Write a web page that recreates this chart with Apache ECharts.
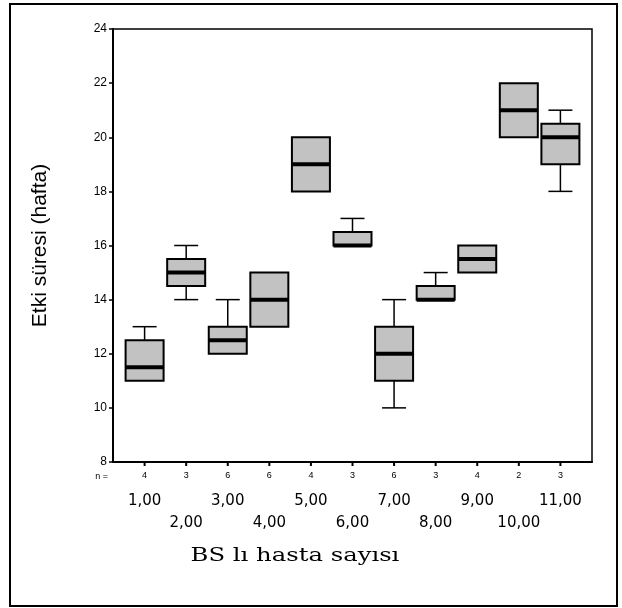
<!DOCTYPE html>
<html>
<head>
<meta charset="utf-8">
<script src="https://cdn.jsdelivr.net/npm/echarts@6/dist/echarts.min.js"></script>
<style>
  html, body { margin: 0; padding: 0; background: #fff; }
  #chart { width: 622px; height: 608px; }
</style>
</head>
<body>
<div id="chart"></div>
<script>
// BS li hasta sayisi groups and their box statistics (etki suresi, hafta)
var categories = ['1,00', '2,00', '3,00', '4,00', '5,00', '6,00', '7,00', '8,00', '9,00', '10,00', '11,00'];
var positions = [1, 2, 3, 4, 5, 6, 7, 8, 9, 10, 11];
var counts = [4, 3, 6, 6, 4, 3, 6, 3, 4, 2, 3];
var mins = [11, 14, 12, 13, 18, 16, 10, 14, 15, 20, 18];
var q1s = [11, 14.5, 12, 13, 18, 16, 11, 14, 15, 20, 19];
var medians = [11.5, 15, 12.5, 14, 19, 16, 12, 14, 15.5, 21, 20];
var q3s = [12.5, 15.5, 13, 15, 20, 16.5, 13, 14.5, 16, 22, 20.5];
var maxs = [13, 16, 14, 15, 20, 17, 14, 15, 16, 22, 21];
var yTicks = [8, 10, 12, 14, 16, 18, 20, 22, 24];

var boxData = positions.map(function(p, i) {
  return [p, mins[i], q1s[i], medians[i], q3s[i], maxs[i]];
});
var oddPos = positions.filter(function(p) { return p % 2 === 1; });
var evenPos = positions.filter(function(p) { return p % 2 === 0; });

var chart = echarts.init(document.getElementById('chart'));

function renderBox(params, api) {
  var x = api.value(0);
  var pMin = api.coord([x, api.value(1)]);
  var pQ1 = api.coord([x, api.value(2)]);
  var pMed = api.coord([x, api.value(3)]);
  var pQ3 = api.coord([x, api.value(4)]);
  var pMax = api.coord([x, api.value(5)]);
  var pBase = api.coord([x, yTicks[0]]);
  var half = 19, cap = 12;
  var cx = pMed[0];
  var kids = [];
  var thin = {stroke: '#000', lineWidth: 1.5};
  // x tick under each group
  kids.push({type: 'line', shape: {x1: cx, y1: pBase[1], x2: cx, y2: pBase[1] + 4}, style: {stroke: '#000', lineWidth: 2}});
  if (pMax[1] < pQ3[1]) {
    kids.push({type: 'line', shape: {x1: cx, y1: pQ3[1], x2: cx, y2: pMax[1]}, style: thin});
    kids.push({type: 'line', shape: {x1: cx - cap, y1: pMax[1], x2: cx + cap, y2: pMax[1]}, style: thin});
  }
  if (pMin[1] > pQ1[1]) {
    kids.push({type: 'line', shape: {x1: cx, y1: pQ1[1], x2: cx, y2: pMin[1]}, style: thin});
    kids.push({type: 'line', shape: {x1: cx - cap, y1: pMin[1], x2: cx + cap, y2: pMin[1]}, style: thin});
  }
  kids.push({
    type: 'rect',
    shape: {x: cx - half, y: pQ3[1], width: half * 2, height: pQ1[1] - pQ3[1]},
    style: {fill: '#c2c2c2', stroke: '#000', lineWidth: 2}
  });
  kids.push({
    type: 'line',
    shape: {x1: cx - half, y1: pMed[1], x2: cx + half, y2: pMed[1]},
    style: {stroke: '#000', lineWidth: 4}
  });
  return {type: 'group', children: kids};
}

function labelAxis(values, margin, fontSize, fontFamily, showLine, fmt) {
  return {
    type: 'value',
    position: 'bottom',
    min: 0.24,
    max: 11.76,
    splitLine: {show: false},
    axisLine: {show: showLine, lineStyle: {color: '#000', width: 2}},
    axisTick: {show: false},
    axisLabel: {
      customValues: values,
      showMinLabel: true,
      showMaxLabel: true,
      hideOverlap: false,
      margin: margin,
      fontSize: fontSize,
      fontFamily: fontFamily,
      color: '#000',
      formatter: fmt
    }
  };
}

var option = {
  backgroundColor: '#fff',
  animation: false,
  grid: {
    left: 113, right: 30, top: 29, bottom: 146,
    show: true, borderColor: '#000', borderWidth: 1.5, backgroundColor: 'transparent'
  },
  xAxis: [
    labelAxis(positions, 9, 9, 'Liberation Sans', true, function(v) { return String(counts[Math.round(v) - 1]); }),
    labelAxis(oddPos, 32, 15, 'DejaVu Sans', false, function(v) { return categories[Math.round(v) - 1]; }),
    labelAxis(evenPos, 54, 15, 'DejaVu Sans', false, function(v) { return categories[Math.round(v) - 1]; })
  ],
  yAxis: {
    type: 'value',
    min: 8,
    max: 24,
    interval: 2,
    splitLine: {show: false},
    axisLine: {lineStyle: {color: '#000', width: 2}},
    axisTick: {length: 4, lineStyle: {color: '#000', width: 1.5}},
    axisLabel: {
      margin: 6,
      fontSize: 12,
      color: '#000',
      fontFamily: 'Liberation Sans Narrow, Liberation Sans',
      formatter: function(v) { return yTicks.indexOf(v) >= 0 ? String(v) : ''; }
    },
    name: 'Etki süresi (hafta)',
    nameLocation: 'middle',
    nameRotate: 90,
    nameGap: 62,
    nameTextStyle: {fontSize: 21, color: '#000', fontFamily: 'Liberation Sans'}
  },
  graphic: [
    {
      type: 'rect',
      shape: {x: 10, y: 4, width: 607, height: 602},
      style: {fill: 'none', stroke: '#000', lineWidth: 2},
      silent: true
    },
    {
      type: 'text',
      x: 108, y: 477,
      style: {text: 'n =', fontSize: 9, fill: '#000', align: 'right', verticalAlign: 'middle', fontFamily: 'Liberation Sans'}
    },
    {
      type: 'text',
      x: 295, y: 556,
      scaleX: 1.35,
      style: {
        text: 'BS lı hasta sayısı', fontSize: 18, fill: '#000',
        align: 'center', verticalAlign: 'middle', fontFamily: 'DejaVu Serif'
      }
    }
  ],
  series: [{
    type: 'custom',
    renderItem: renderBox,
    clip: false,
    xAxisIndex: 0,
    encode: {x: 0, y: [1, 2, 3, 4, 5]},
    data: boxData
  }]
};

chart.setOption(option);
</script>
</body>
</html>
